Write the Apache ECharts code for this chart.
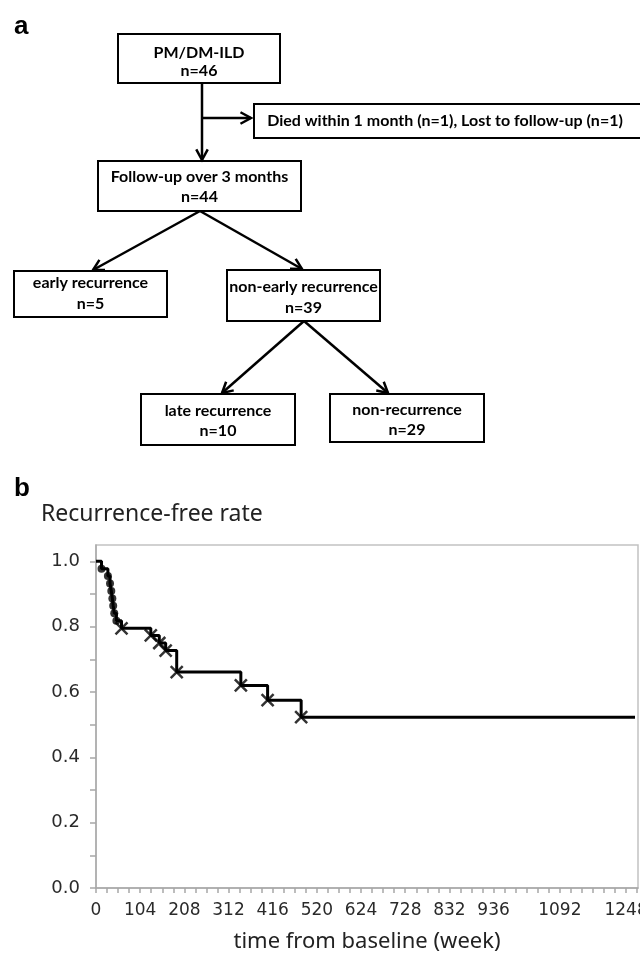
<!DOCTYPE html>
<html>
<head>
<meta charset="utf-8">
<script src="https://cdn.jsdelivr.net/npm/echarts@6/dist/echarts.min.js"></script>
<style>
  html, body { margin: 0; padding: 0; background: #fff; }
  #chart { width: 640px; height: 955px; }
</style>
</head>
<body>
<div id="chart"></div>
<script>
// flowchart (panel a)
const flowTitles = ['PM/DM-ILD', 'Died within 1 month (n=1), Lost to follow-up (n=1)', 'Follow-up over 3 months',
  'early recurrence', 'non-early recurrence', 'late recurrence', 'non-recurrence'];
const flowCounts = [46, null, 44, 5, 39, 10, 29];

// Kaplan-Meier curve (panel b), weeks / rate
const earlyWeeks = [13, 28, 33, 36, 38.5, 40.5, 43, 48];
const earlyRates = [0.977, 0.955, 0.932, 0.909, 0.886, 0.864, 0.841, 0.818];
const lateWeeks = [60, 129, 149, 164, 190, 341, 404, 483];
const lateRates = [0.795, 0.773, 0.750, 0.727, 0.661, 0.620, 0.575, 0.523];
const lastWeek = 1269;

const xLabels = [0, 104, 208, 312, 416, 520, 624, 728, 832, 936, 1092, 1248];
const yLabels = [0, 0.2, 0.4, 0.6, 0.8, 1.0];
const yTicks = [0, 0.1, 0.2, 0.3, 0.4, 0.5, 0.6, 0.7, 0.8, 0.9, 1.0];

// box layout [x, y, w, h, textY1, textY2]
const boxes = [
  [118, 34, 162, 49, 53, 71],
  [254, 104, 392, 34, 121, null],
  [98, 161, 203, 50, 177, 197],
  [14, 271, 153, 46, 283, 304],
  [227, 270, 153, 51, 287, 308],
  [141, 394, 154, 51, 411, 431],
  [330, 394, 154, 48, 410, 430]
];
const arrows = [
  [202, 83, 202, 160],
  [202, 118, 251, 118],
  [200, 211, 93, 270],
  [200, 211, 302, 269],
  [304, 321, 222, 393],
  [304, 321, 388, 393]
];

const flowFont = 'bold 16px Lato';
const graphic = [];
boxes.forEach((b, i) => {
  graphic.push({ type: 'rect', shape: { x: b[0], y: b[1], width: b[2], height: b[3] },
    style: { fill: '#fff', stroke: '#000', lineWidth: 2 } });
  const cx = b[0] + b[2] / 2;
  graphic.push({ type: 'text', style: { text: flowTitles[i], x: i === 1 ? 445 : cx, y: b[4],
    align: 'center', verticalAlign: 'middle', font: flowFont, fill: '#000' } });
  if (flowCounts[i] !== null) {
    graphic.push({ type: 'text', style: { text: 'n=' + flowCounts[i], x: cx, y: b[5],
      align: 'center', verticalAlign: 'middle', font: flowFont, fill: '#000' } });
  }
});
arrows.forEach(a => {
  graphic.push({ type: 'line', shape: { x1: a[0], y1: a[1], x2: a[2], y2: a[3] },
    style: { stroke: '#000', lineWidth: 2.5 } });
  const ang = Math.atan2(a[3] - a[1], a[2] - a[0]);
  const L = 12;
  graphic.push({ type: 'polyline', shape: { points: [
      [a[2] - L * Math.cos(ang - 0.5), a[3] - L * Math.sin(ang - 0.5)],
      [a[2], a[3]],
      [a[2] - L * Math.cos(ang + 0.5), a[3] - L * Math.sin(ang + 0.5)]
    ] }, style: { stroke: '#000', lineWidth: 2.5, fill: null } });
});
graphic.push({ type: 'text', style: { text: 'a', x: 14, y: 27, verticalAlign: 'middle',
  font: 'bold 26px "Liberation Sans"', fill: '#000' } });
graphic.push({ type: 'text', style: { text: 'b', x: 14, y: 489, verticalAlign: 'middle',
  font: 'bold 26px "Liberation Sans"', fill: '#000' } });
graphic.push({ type: 'text', style: { text: 'Recurrence-free rate', x: 41, y: 514, verticalAlign: 'middle',
  font: '23px "Noto Sans"', fill: '#222' } });

// step curve built from the event lists
const curve = [[0, 1]];
earlyWeeks.forEach((w, i) => curve.push([w, earlyRates[i]]));
lateWeeks.forEach((w, i) => curve.push([w, lateRates[i]]));
curve.push([lastWeek, lateRates[lateRates.length - 1]]);

const minorTicks = [];
for (let w = 0; w <= 1274; w += 26) minorTicks.push(w);

const chart = echarts.init(document.getElementById('chart'));
chart.setOption({
  animation: false,
  graphic: graphic,
  grid: { left: 96, right: 2, top: 545, bottom: 67, show: true, borderColor: '#c2c2c2', borderWidth: 1.5,
    outerBoundsMode: 'none', containLabel: false },
  xAxis: {
    type: 'value', min: 0, max: 1276,
    name: 'time from baseline (week)', nameLocation: 'middle', nameGap: 43,
    nameTextStyle: { fontFamily: 'Noto Sans', fontSize: 22, color: '#222' },
    splitLine: { show: false },
    axisLine: { lineStyle: { color: '#a8a8a8', width: 1.5 } },
    axisTick: { customValues: minorTicks, length: 5, lineStyle: { color: '#a8a8a8', width: 1.5 } },
    axisLabel: { customValues: xLabels, margin: 14, fontFamily: 'DejaVu Sans', fontSize: 17, color: '#2a2a2a',
      formatter: v => String(v) }
  },
  yAxis: {
    type: 'value', min: 0, max: 1.05,
    splitLine: { show: false },
    axisLine: { show: true, lineStyle: { color: '#a8a8a8', width: 1.5 } },
    axisTick: { show: true, customValues: yTicks, length: 6, lineStyle: { color: '#a8a8a8', width: 1.5 } },
    axisLabel: { customValues: yLabels, margin: 16, fontFamily: 'DejaVu Sans', fontSize: 18, color: '#2a2a2a',
      formatter: v => v.toFixed(1) }
  },
  series: [
    {
      type: 'line', step: 'end', data: curve, showSymbol: false, z: 2,
      lineStyle: { color: '#000', width: 3 }
    },
    {
      type: 'scatter', data: earlyWeeks.map((w, i) => [w, earlyRates[i]]), z: 3,
      symbol: 'circle', symbolSize: 8, itemStyle: { color: '#000' }
    },
    {
      type: 'scatter', data: lateWeeks.map((w, i) => [w, lateRates[i]]), z: 3,
      symbol: 'path://M0,0L10,10M10,0L0,10', symbolSize: 12,
      itemStyle: { color: 'rgba(0,0,0,0)', borderColor: '#000', borderWidth: 2.5 }
    }
  ]
});
</script>
</body>
</html>
